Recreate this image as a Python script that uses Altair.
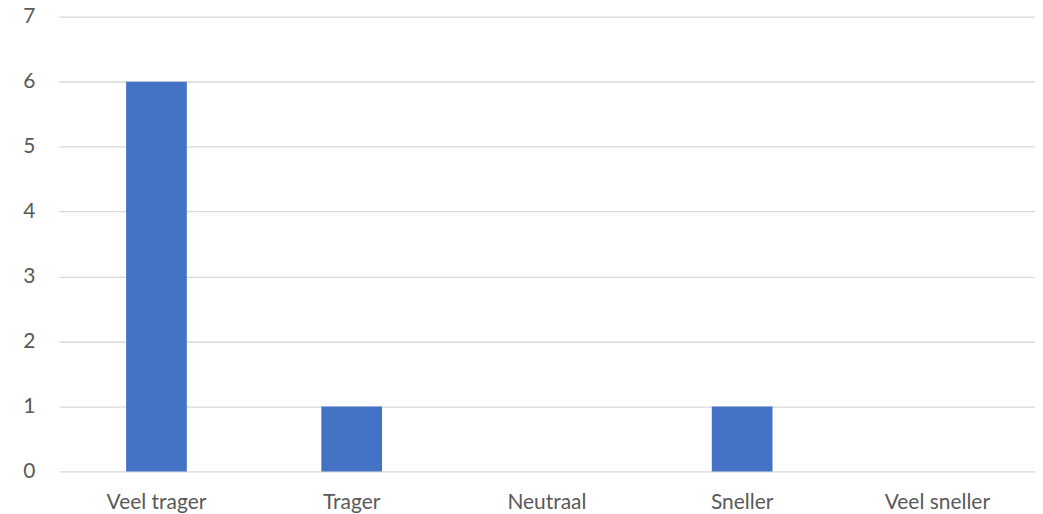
import altair as alt
import pandas as pd

categories = ["Veel trager", "Trager", "Neutraal", "Sneller", "Veel sneller"]
values = [6, 1, 0, 1, 0]

df = pd.DataFrame({"cat": categories, "val": values})

chart = alt.Chart(df).mark_bar(color="#4472c4").encode(
    x=alt.X("cat:N", sort=categories, title=None,
            scale=alt.Scale(paddingInner=0.689, paddingOuter=0.3445),
            axis=alt.Axis(labelAngle=0, labelFontSize=21, labelColor="#595959",
                          labelFont="Lato", ticks=False, domain=False,
                          labelPadding=20)),
    y=alt.Y("val:Q", title=None,
            scale=alt.Scale(domain=[0, 7], nice=False),
            axis=alt.Axis(values=[0, 1, 2, 3, 4, 5, 6, 7], labelFontSize=21,
                          labelColor="#595959", labelFont="Lato", ticks=False,
                          domain=False, labelPadding=24, grid=True,
                          gridColor="#d9d9d9", gridWidth=1.3)),
).properties(
    width=979, height=456,
    autosize=alt.AutoSizeParams(type="none"),
    padding={"left": 51, "top": 8, "right": 0, "bottom": 42},
).configure_view(stroke=None)

chart.save("out.html", embed_options={"renderer": "svg", "actions": False})
